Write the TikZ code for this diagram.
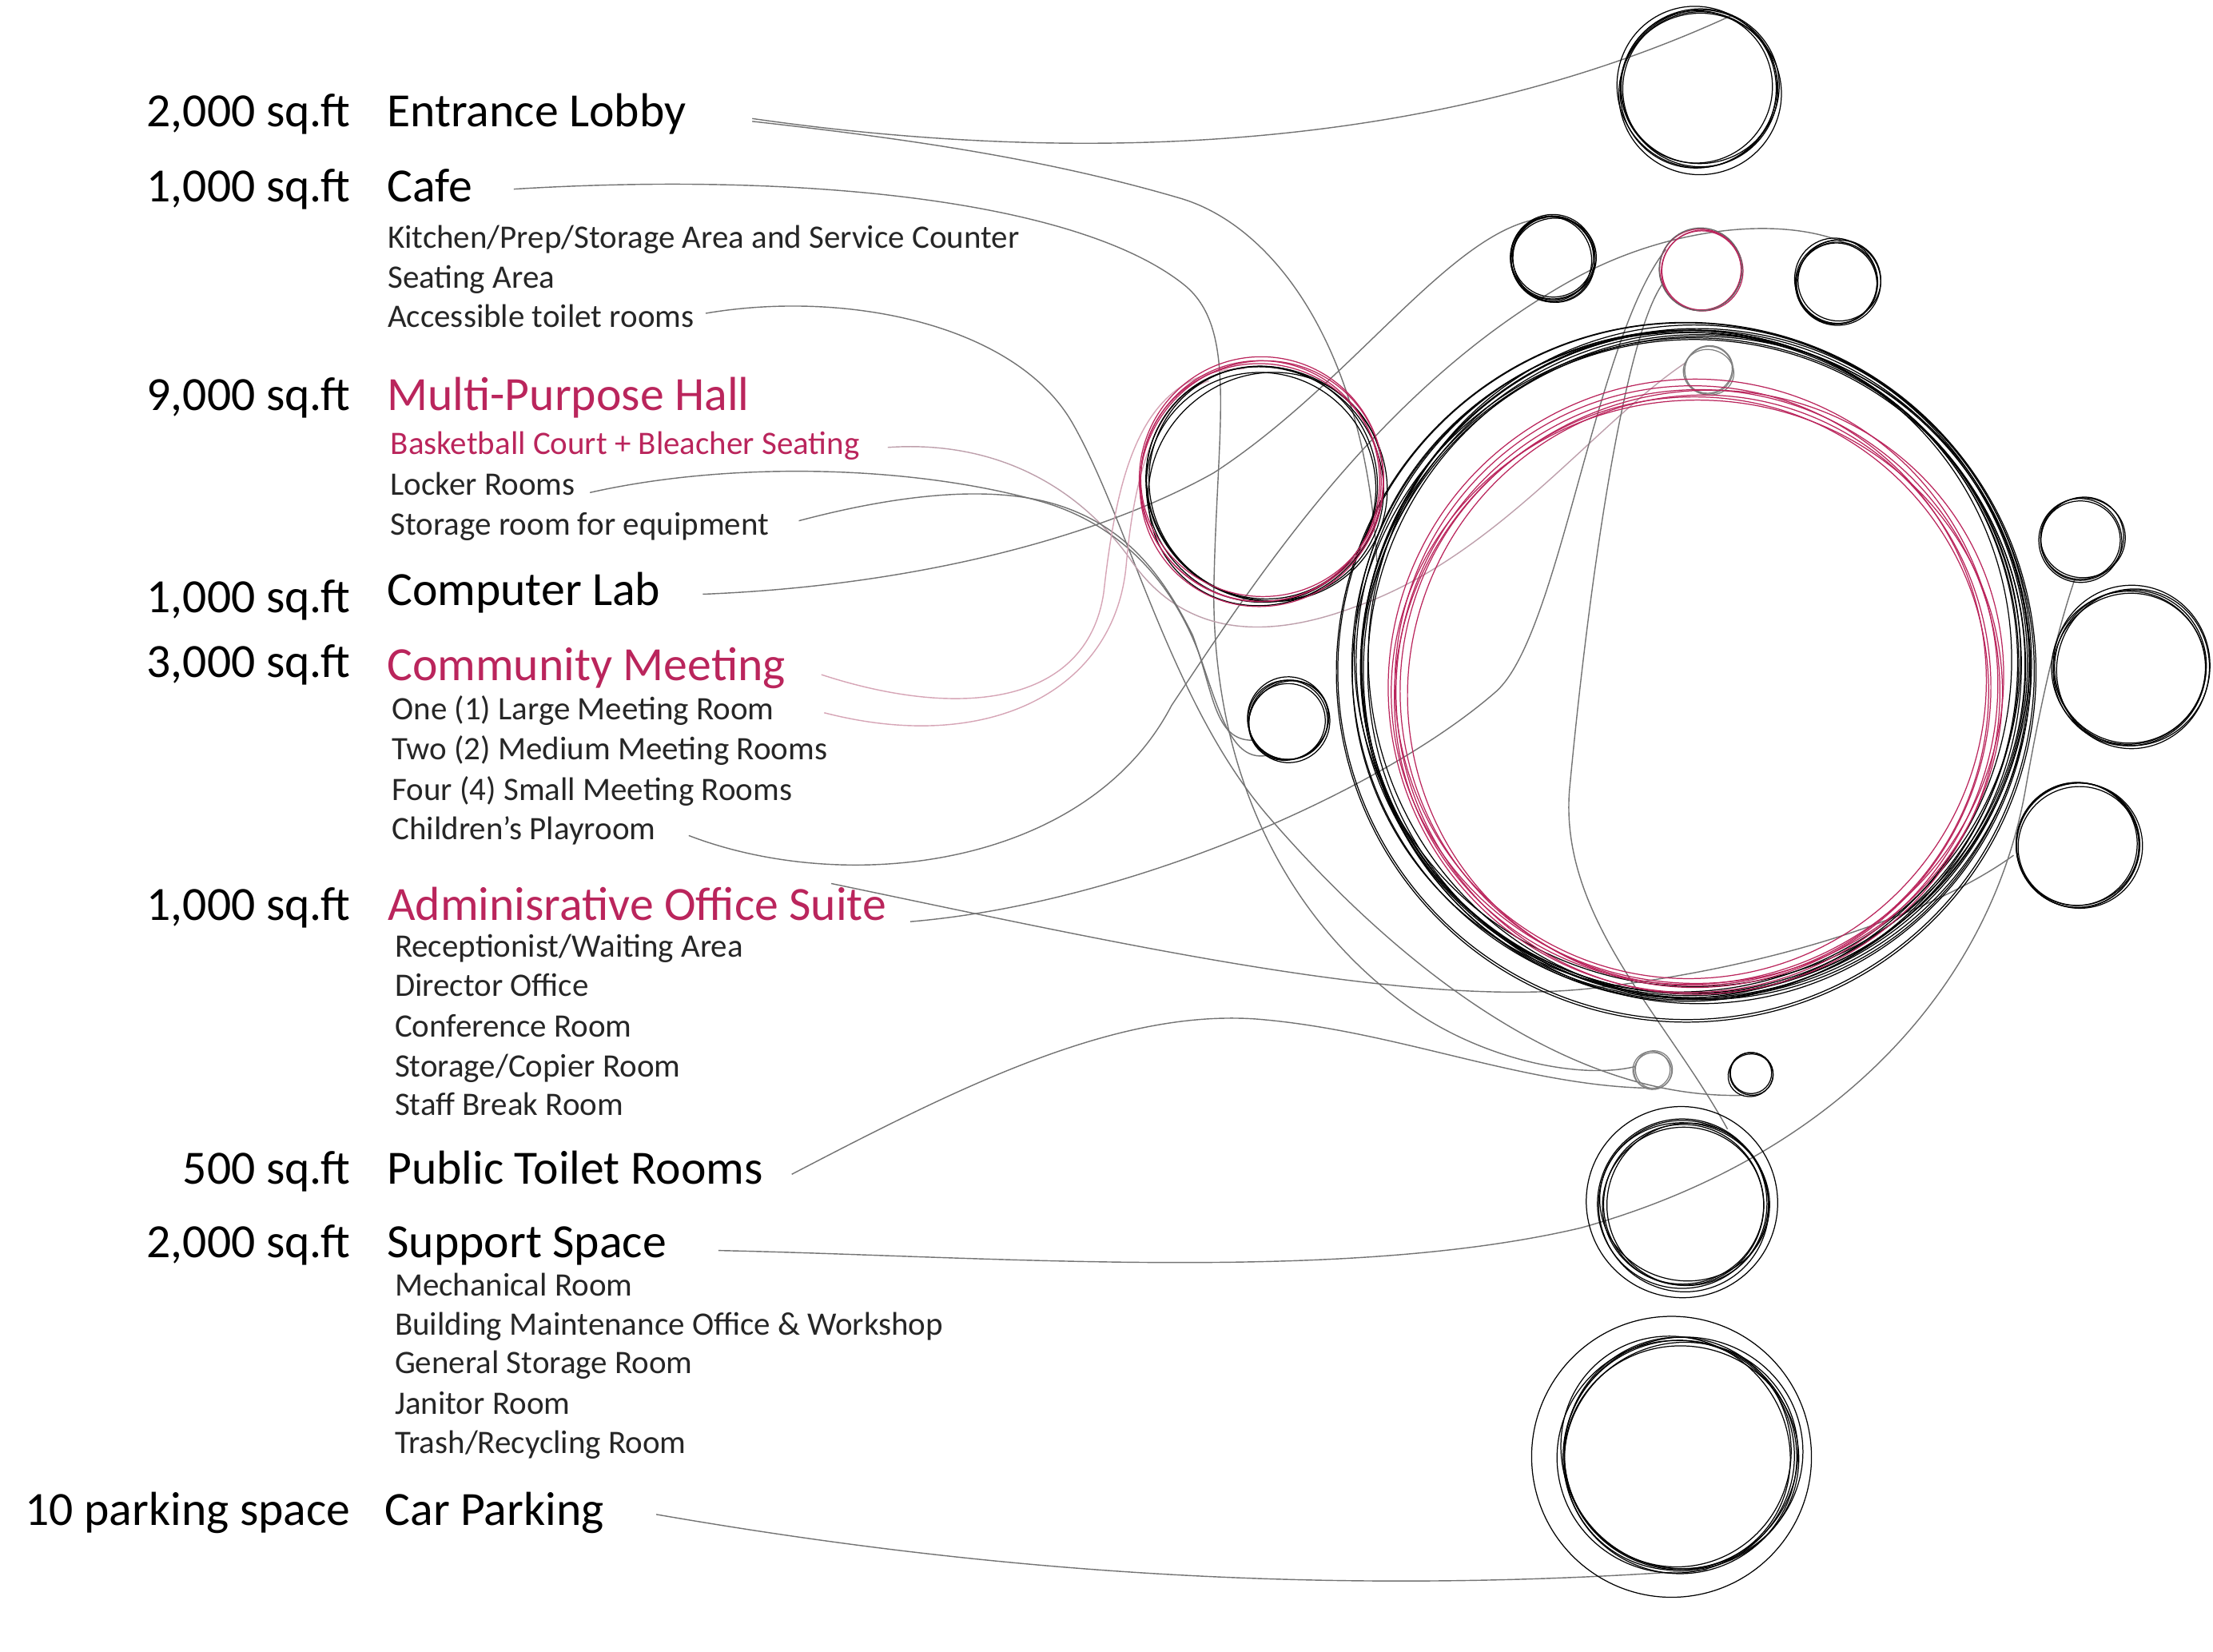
\documentclass[tikz,border=0pt]{standalone}
\usepackage{fontspec}
\setmainfont{Carlito}
\usetikzlibrary{calc}

\definecolor{hallred}{RGB}{186,37,92}
\definecolor{linkpink}{RGB}{214,165,182}
\definecolor{courtgray}{RGB}{190,160,172}

\tikzset{every picture/.style={line width=0.75pt}}
\tikzset{
  ring/.style={line width=0.35pt},
  link/.style={draw=black!55, line width=0.4pt},
  pinklink/.style={draw=linkpink, line width=0.4pt},
  room/.style={circle, inner sep=0pt, outer sep=0pt},
  area/.style={anchor=base east, inner sep=0pt, font=\fontsize{16.9}{18}\selectfont},
  head/.style={anchor=base west, inner sep=0pt, font=\fontsize{16.9}{18}\selectfont},
  sub/.style={anchor=base west, inner sep=0pt, text=black!85, font=\fontsize{11.6}{14}\selectfont},
}

% hand drawn ring: x, y, r, count, jitter, style
\newcommand{\sketchring}[6]{%
  \foreach \k in {1,...,#4}{
    \pgfmathsetmacro{\ringdx}{#5*#3*rand}
    \pgfmathsetmacro{\ringdy}{#5*#3*rand}
    \pgfmathsetmacro{\ringrx}{#3*(1+#5*rand)}
    \pgfmathsetmacro{\ringry}{#3*(1.01+#5*rand)}
    \pgfmathsetmacro{\ringan}{90*rand}
    \draw[ring,#6] ($(#1,#2)+(\ringdx,\ringdy)$) ellipse [x radius=\ringrx, y radius=\ringry, rotate=\ringan];
  }}

\begin{document}
\begin{tikzpicture}[x=0.5pt,y=-0.5pt]
\useasboundingbox (0,0) rectangle (1568,1170);
\pgfmathsetseed{11}

%Rooms (circles)
\node[room, minimum size=56pt] (lobby) at (1203,61) {};
\node[room, minimum size=29pt] (cA) at (1100,183) {};
\node[room, minimum size=28.5pt] (cB) at (1205,191) {};
\node[room, minimum size=29pt] (cC) at (1302,200) {};
\node[room, minimum size=17pt] (cG) at (1210,263) {};
\node[room, minimum size=236pt] (big) at (1200,471) {};
\node[room, minimum size=84pt] (hall) at (896,344) {};
\node[room, minimum size=29pt] (cL) at (913,510) {};
\node[room, minimum size=29pt] (R1) at (1475,382) {};
\node[room, minimum size=56pt] (R2) at (1510,473) {};
\node[room, minimum size=46pt] (R3) at (1472,598) {};
\node[room, minimum size=13pt] (t1) at (1171,758) {};
\node[room, minimum size=16pt] (t2) at (1241,761) {};
\node[room, minimum size=60pt] (toilet) at (1194,852) {};
\node[room, minimum size=84pt] (park) at (1188,1031) {};

%Line starts
\coordinate (eLa) at (533,84);
\coordinate (eLb) at (533,86);
\coordinate (cf) at (364,134);
\coordinate (acc) at (500,222);
\coordinate (bb) at (629,317);
\coordinate (lk) at (418,349);
\coordinate (st) at (566,369);
\coordinate (cl) at (498,421);
\coordinate (cm1) at (582,478);
\coordinate (cm2) at (584,505);
\coordinate (ch) at (488,592);
\coordinate (ad1) at (589,626);
\coordinate (ad2) at (645,653);
\coordinate (pt) at (561,832);
\coordinate (ss) at (509,886);
\coordinate (cp) at (465,1073);

%Curves
\draw[link] (eLa) .. controls (700,108) and (980,125) .. (lobby.64);
\draw[link] (eLb) .. controls (640,98) and (740,112) .. (838,141) .. controls (905,162) and (968,250) .. (big.162);
\draw[link] (cf) .. controls (560,122) and (760,140) .. (838,201) .. controls (878,232) and (862,300) .. (860,420) .. controls (860,560) and (920,660) .. (1003,717) .. controls (1053,751) and (1120,765) .. (t1.170);
\draw[link] (acc) .. controls (600,205) and (720,230) .. (760,300) .. controls (800,370) and (830,500) .. (900,580) .. controls (960,649) and (1090,780) .. (t2.-110);
\draw[draw=courtgray, line width=0.4pt] (bb) .. controls (700,312) and (760,340) .. (800,395) .. controls (830,440) and (880,460) .. (960,430) .. controls (1060,395) and (1130,300) .. (cG.160);
\draw[link] (lk) .. controls (520,326) and (650,330) .. (740,356) .. controls (800,374) and (835,420) .. (852,470) .. controls (866,512) and (875,540) .. (cL.-120);
\draw[link] (st) .. controls (630,352) and (700,342) .. (750,358) .. controls (800,374) and (825,410) .. (845,450) .. controls (860,490) and (860,525) .. (cL.-150);
\draw[link] (cl) .. controls (650,415) and (780,380) .. (860,335) .. controls (960,270) and (1030,160) .. (cA.100);
\draw[link] (ch) .. controls (600,635) and (770,615) .. (830,500) .. controls (890,410) and (980,270) .. (1120,195) .. controls (1190,158) and (1280,150) .. (cC.40);
\draw[pinklink] (cm1) .. controls (680,510) and (770,500) .. (782,420) .. controls (792,330) and (810,262) .. (hall.100);
\draw[pinklink] (cm2) .. controls (700,535) and (790,490) .. (798,400) .. controls (805,320) and (825,280) .. (hall.118);
\draw[link] (ad1) .. controls (800,670) and (1000,715) .. (1130,700) .. controls (1280,682) and (1380,640) .. (R3.190);
\draw[link] (ad2) .. controls (800,640) and (980,560) .. (1060,490) .. controls (1105,450) and (1130,240) .. (cB.150);
\draw[link] (pt) .. controls (680,770) and (790,715) .. (890,722) .. controls (990,730) and (1080,770) .. (t1.-90);
\draw[link] (ss) .. controls (700,890) and (950,910) .. (1120,870) .. controls (1300,820) and (1410,700) .. (1435,560) .. controls (1448,485) and (1460,440) .. (R1.-100);
\draw[link] (cp) .. controls (650,1105) and (900,1135) .. (park.-75);
\draw[link] (cB.200) .. controls (1150,240) and (1125,420) .. (1112,560) .. controls (1105,650) and (1180,720) .. (toilet.60);

%Shape: hand drawn rings
\sketchring{1203}{61}{55}{5}{0.045}{black}
\sketchring{1205}{66}{57}{1}{0.01}{black}
\sketchring{1100}{183}{29}{6}{0.05}{black}
\sketchring{1205}{191}{28.5}{3}{0.04}{hallred}
\sketchring{1205}{191}{29}{1}{0.03}{black!60}
\sketchring{1302}{200}{29}{5}{0.05}{black}
\sketchring{1210}{263}{17}{3}{0.06}{black!50}
\sketchring{1200}{471}{233}{12}{0.022}{black}
\sketchring{1196}{475}{246}{2}{0.008}{black}
\sketchring{1199}{487}{211}{7}{0.025}{hallred}
\sketchring{896}{344}{83}{5}{0.035}{black}
\sketchring{895}{340}{85}{4}{0.035}{hallred}
\sketchring{913}{510}{28}{5}{0.05}{black}
\sketchring{1475}{382}{29}{4}{0.05}{black}
\sketchring{1510}{473}{55}{5}{0.04}{black}
\sketchring{1472}{598}{44}{5}{0.05}{black}
\sketchring{1171}{758}{13}{3}{0.07}{black!50}
\sketchring{1241}{761}{15}{3}{0.06}{black}
\sketchring{1194}{852}{58}{6}{0.045}{black}
\sketchring{1192}{852}{67}{1}{0.01}{black}
\sketchring{1190}{1031}{82}{7}{0.035}{black}
\sketchring{1184}{1032}{99}{1}{0.01}{black}

% Text Node: areas
\node[area] (aLobby) at (249,90) {2,000 sq.ft};
\node[area] (aCafe) at (249,143) {1,000 sq.ft};
\node[area] (aHall) at (249,291) {9,000 sq.ft};
\node[area] (aLab) at (249,434) {1,000 sq.ft};
\node[area] (aMeet) at (249,480) {3,000 sq.ft};
\node[area] (aAdmin) at (249,652) {1,000 sq.ft};
\node[area] (aToilet) at (249,839) {500 sq.ft};
\node[area] (aSupport) at (249,891) {2,000 sq.ft};
\node[area] (aPark) at (249,1081) {10 parking space};

% Text Node: spaces
\node[head] (nLobby) at (273.5,90) {Entrance Lobby};
\node[head] (nCafe) at (273.5,143) {Cafe};
\node[head, text=hallred] (nHall) at (273.5,291) {Multi-Purpose Hall};
\node[head] (nLab) at (273.5,429) {Computer Lab};
\node[head, text=hallred] (nMeet) at (273.5,482) {Community Meeting};
\node[head, text=hallred] (nAdmin) at (274,652) {Adminisrative Office Suite};
\node[head] (nToilet) at (273.5,839) {Public Toilet Rooms};
\node[head] (nSupport) at (273.5,891) {Support Space};
\node[head] (nPark) at (272,1081) {Car Parking};

% Text Node: rooms
\node[sub] (sKitchen) at (274,176) {Kitchen/Prep/Storage Area and Service Counter};
\node[sub] (sSeat) at (274,204) {Seating Area};
\node[sub] (sAccess) at (274,232) {Accessible toilet rooms};
\node[sub, text=hallred] (sCourt) at (276,322) {Basketball Court + Bleacher Seating};
\node[sub] (sLocker) at (276,351) {Locker Rooms};
\node[sub] (sStore) at (276,379) {Storage room for equipment};
\node[sub] (sLarge) at (277,510) {One (1) Large Meeting Room};
\node[sub] (sMedium) at (277,538.5) {Two (2) Medium Meeting Rooms};
\node[sub] (sSmall) at (277,567) {Four (4) Small Meeting Rooms};
\node[sub] (sPlay) at (277,595) {Children's Playroom};
\node[sub] (sRecep) at (279,678) {Receptionist/Waiting Area};
\node[sub] (sDirect) at (279,706) {Director Office};
\node[sub] (sConf) at (279,734.5) {Conference Room};
\node[sub] (sCopy) at (279,763) {Storage/Copier Room};
\node[sub] (sBreak) at (279,790.5) {Staff Break Room};
\node[sub] (sMech) at (279,918) {Mechanical Room};
\node[sub] (sMaint) at (279,946) {Building Maintenance Office \& Workshop};
\node[sub] (sGen) at (279,973) {General Storage Room};
\node[sub] (sJan) at (279,1002) {Janitor Room};
\node[sub] (sTrash) at (279,1030) {Trash/Recycling Room};

\end{tikzpicture}
\end{document}
